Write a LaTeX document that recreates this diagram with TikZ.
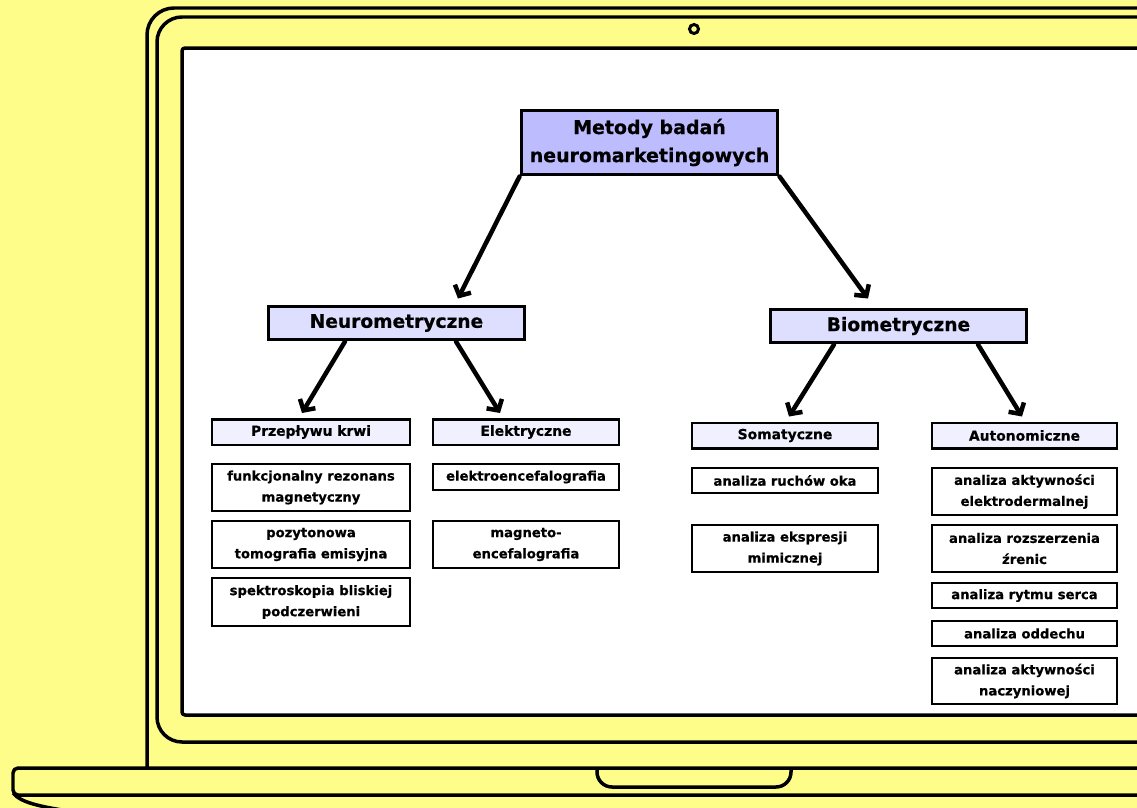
\documentclass[tikz,border=0pt]{standalone}
\usepackage{fontspec}
\setmainfont{DejaVu Sans}[BoldFeatures={FakeBold=0.6}]
\usepackage{tikz}
\usetikzlibrary{arrows.meta}
\definecolor{lapyellow}{RGB}{255,253,138}
\definecolor{rootfill}{RGB}{188,188,255}
\definecolor{catfill}{RGB}{222,222,255}
\definecolor{subfill}{RGB}{240,240,254}
\tikzset{
  outline/.style={line width=0.07cm, line join=round},
  box/.style={draw, line width=0.05cm, inner sep=0pt, align=center, font=\bfseries},
  rootbox/.style={box, fill=rootfill, line width=0.06cm, minimum width=5.14cm, minimum height=1.3cm, font=\bfseries\fontsize{10.8}{16}\selectfont},
  catbox/.style={box, fill=catfill, line width=0.06cm, minimum width=5.14cm, minimum height=0.68cm, font=\bfseries\fontsize{10.6}{13}\selectfont},
  subbox/.style={box, fill=subfill, minimum height=0.51cm, font=\bfseries\fontsize{7.9}{10}\selectfont},
  leaf/.style={box, fill=white, font=\bfseries\fontsize{7.5}{12}\selectfont},
  arr/.style={line width=0.09cm, line cap=round, -{Straight Barb[length=0.16cm, width=0.36cm, line width=0.09cm]}}
}
\begin{document}
\begin{tikzpicture}[x=0.02cm, y=-0.02cm]
  \fill[lapyellow] (0,0) rectangle (1137,808);
  \useasboundingbox (0,0) rectangle (1137,808);
  \begin{scope}
    \clip (0,0) rectangle (1137,808);
    % laptop lid and screen
    \draw[outline, rounded corners=0.54cm] (147,768) |- (1200,8);
    \draw[outline, rounded corners=0.5cm] (1200,17) -| (157,742) -- (1200,742);
    \draw[outline, fill=white, rounded corners=0.06cm] (1200,48) -| (182,715) -- (1200,715);
    \draw[line width=0.06cm] (694,29) circle (0.09cm);
    % laptop base
    \draw[outline, rounded corners=0.1cm] (1200,768) -| (13,795) -- (1200,795);
    \draw[outline] (13,793) .. controls (20,802) and (38,806) .. (62,810);
    \draw[outline, rounded corners=0.3cm] (597,768) |- (791,787) -- (791,768);
  \end{scope}

  % tree
  \node[rootbox] (root) at (649.5,142.5) {Metody badań\\neuromarketingowych};
  \node[catbox] (neuro) at (396.5,323) {Neurometryczne};
  \node[catbox] (bio) at (898.5,326) {Biometryczne};

  \node[subbox, minimum width=3.96cm] (flow) at (311,432) {Przepływu krwi};
  \node[subbox, minimum width=3.72cm] (elec) at (526,432) {Elektryczne};
  \node[subbox, minimum width=3.72cm] (soma) at (785,435.5) {Somatyczne};
  \node[subbox, minimum width=3.7cm] (auto) at (1024.5,435.5) {Autonomiczne};

  \node[leaf, minimum width=3.96cm, minimum height=0.94cm] (fmri) at (311,487.5) {funkcjonalny rezonans\\magnetyczny};
  \node[leaf, minimum width=3.96cm, minimum height=0.94cm] (pet) at (311,544.5) {pozytonowa\\tomografia emisyjna};
  \node[leaf, minimum width=3.96cm, minimum height=0.96cm] (fnirs) at (311,602) {spektroskopia bliskiej\\podczerwieni};

  \node[leaf, minimum width=3.72cm, minimum height=0.52cm] (eeg) at (526,477) {elektroencefalografia};
  \node[leaf, minimum width=3.72cm, minimum height=0.94cm] (meg) at (526,544.5) {magneto-\\encefalografia};

  \node[leaf, minimum width=3.72cm, minimum height=0.5cm] (eye) at (785,480.5) {analiza ruchów oka};
  \node[leaf, minimum width=3.72cm, minimum height=0.94cm] (face) at (785,548.5) {analiza ekspresji\\mimicznej};

  \node[leaf, minimum width=3.7cm, minimum height=0.94cm] (eda) at (1024.5,491.5) {analiza aktywności\\elektrodermalnej};
  \node[leaf, minimum width=3.7cm, minimum height=0.94cm] (pupil) at (1024.5,548.5) {analiza rozszerzenia\\źrenic};
  \node[leaf, minimum width=3.7cm, minimum height=0.5cm] (heart) at (1024.5,595.5) {analiza rytmu serca};
  \node[leaf, minimum width=3.7cm, minimum height=0.5cm] (breath) at (1024.5,633.5) {analiza oddechu};
  \node[leaf, minimum width=3.7cm, minimum height=0.92cm] (vasc) at (1024.5,681) {analiza aktywności\\naczyniowej};

  % arrows
  \draw[arr] (root.south west) -- ([xshift=1.23cm, yshift=0.12cm]neuro.north);
  \draw[arr] (root.south east) -- ([xshift=-0.61cm, yshift=0.18cm]bio.north);
  \draw[arr] ([xshift=-1.03cm]neuro.south) -- ([xshift=-0.18cm, yshift=0.1cm]flow.north);
  \draw[arr] ([xshift=1.19cm]neuro.south) -- ([xshift=-0.52cm, yshift=0.1cm]elec.north);
  \draw[arr] ([xshift=-1.29cm]bio.south) -- ([xshift=0.08cm, yshift=0.1cm]soma.north);
  \draw[arr] ([xshift=1.59cm]bio.south) -- ([xshift=-0.05cm, yshift=0.1cm]auto.north);
\end{tikzpicture}
\end{document}
